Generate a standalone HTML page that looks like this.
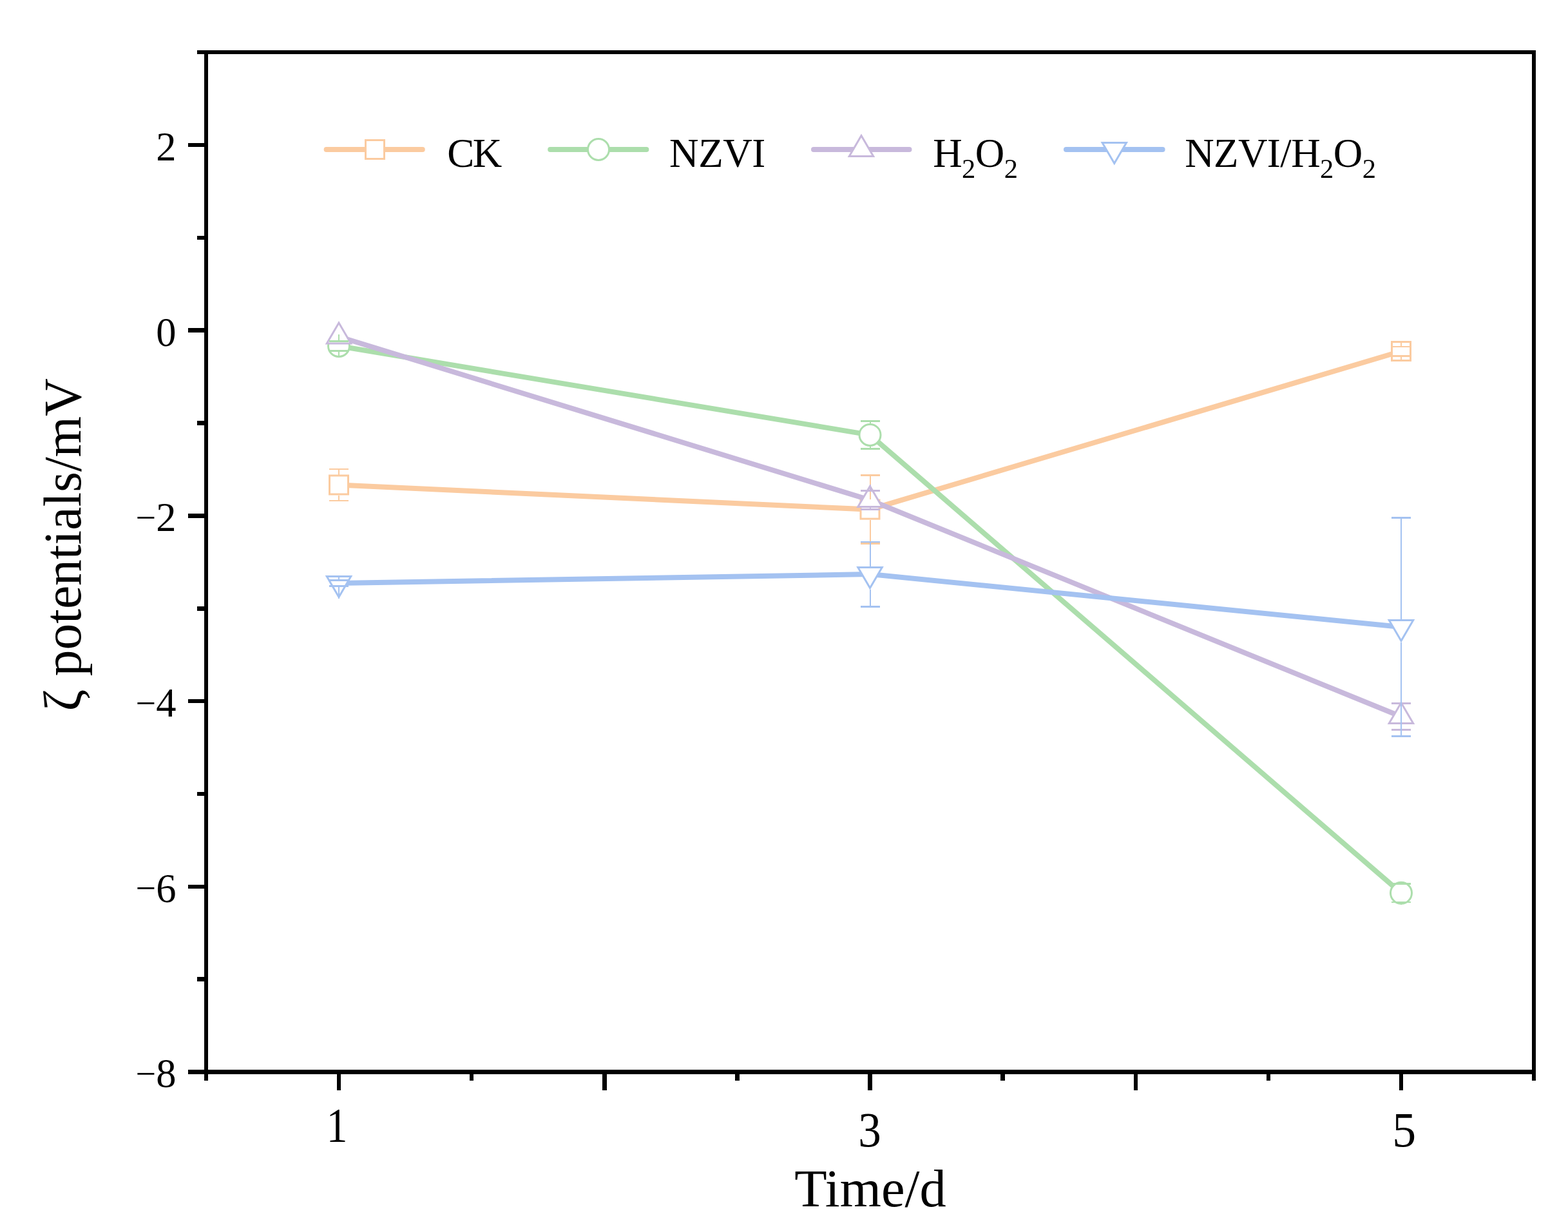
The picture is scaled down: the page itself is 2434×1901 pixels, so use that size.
<!DOCTYPE html><html><head><meta charset="utf-8"><title>zeta potentials</title><style>html,body{margin:0;padding:0;background:#fff;overflow:hidden;}svg{display:block;}text{font-family:"Liberation Serif","Times New Roman",serif;fill:#000;}</style></head><body>
<svg width="2434" height="1901" viewBox="0 0 2434 1901" shape-rendering="crispEdges">
<rect x="0" y="0" width="2434" height="1901" fill="#fff"/>
<g shape-rendering="auto">
<polyline points="526.00,752.50 1350.50,790.60 2175.00,545.00" fill="none" stroke="#FBCBA0" stroke-width="8" stroke-linejoin="miter"/>
<rect x="511.50" y="738.00" width="29.00" height="29.00" fill="#fff" stroke="#FBCBA0" stroke-width="3"/>
<rect x="1336.00" y="776.10" width="29.00" height="29.00" fill="#fff" stroke="#FBCBA0" stroke-width="3"/>
<rect x="2160.50" y="530.50" width="29.00" height="29.00" fill="#fff" stroke="#FBCBA0" stroke-width="3"/>
<polyline points="526.00,537.00 1350.50,674.90 2175.00,1385.80" fill="none" stroke="#ACDEAC" stroke-width="8" stroke-linejoin="miter"/>
<circle cx="526.00" cy="537.00" r="16.5" fill="#fff" stroke="#ACDEAC" stroke-width="3"/>
<circle cx="1350.50" cy="674.90" r="16.5" fill="#fff" stroke="#ACDEAC" stroke-width="3"/>
<circle cx="2175.00" cy="1385.80" r="16.5" fill="#fff" stroke="#ACDEAC" stroke-width="3"/>
<polyline points="526.00,522.50 1350.50,776.00 2175.00,1112.00" fill="none" stroke="#C8B9DC" stroke-width="8" stroke-linejoin="miter"/>
<path d="M526.00,501.00L544.70,533.00L507.30,533.00Z" fill="#fff" stroke="#C8B9DC" stroke-width="3" stroke-linejoin="miter"/>
<path d="M1350.50,754.50L1369.20,786.50L1331.80,786.50Z" fill="#fff" stroke="#C8B9DC" stroke-width="3" stroke-linejoin="miter"/>
<path d="M2175.00,1090.50L2193.70,1122.50L2156.30,1122.50Z" fill="#fff" stroke="#C8B9DC" stroke-width="3" stroke-linejoin="miter"/>
<polyline points="526.00,905.00 1350.50,891.10 2175.00,973.00" fill="none" stroke="#A4C2F1" stroke-width="8" stroke-linejoin="miter"/>
<path d="M507.30,894.50L544.70,894.50L526.00,926.50Z" fill="#fff" stroke="#A4C2F1" stroke-width="3" stroke-linejoin="miter"/>
<path d="M1331.80,880.60L1369.20,880.60L1350.50,912.60Z" fill="#fff" stroke="#A4C2F1" stroke-width="3" stroke-linejoin="miter"/>
<path d="M2156.30,962.50L2193.70,962.50L2175.00,994.50Z" fill="#fff" stroke="#A4C2F1" stroke-width="3" stroke-linejoin="miter"/>
</g>
<rect x="525.0" y="728.0" width="2" height="8.5" fill="#FBCBA0"/>
<rect x="525.0" y="768.5" width="2" height="8.5" fill="#FBCBA0"/>
<rect x="511.0" y="726.8" width="30" height="2.5" fill="#FBCBA0"/>
<rect x="511.0" y="775.8" width="30" height="2.5" fill="#FBCBA0"/>
<rect x="1349.5" y="737.6" width="2" height="37.0" fill="#FBCBA0"/>
<rect x="1349.5" y="806.6" width="2" height="37.0" fill="#FBCBA0"/>
<rect x="1335.5" y="736.4" width="30" height="2.5" fill="#FBCBA0"/>
<rect x="1335.5" y="842.4" width="30" height="2.5" fill="#FBCBA0"/>
<rect x="2174.0" y="529.0" width="2" height="8.7" fill="#FBCBA0"/>
<rect x="2174.0" y="552.3" width="2" height="8.7" fill="#FBCBA0"/>
<rect x="2160.0" y="536.5" width="30" height="2.5" fill="#FBCBA0"/>
<rect x="2160.0" y="551.0" width="30" height="2.5" fill="#FBCBA0"/>
<rect x="525.0" y="519.0" width="2" height="10.5" fill="#ACDEAC"/>
<rect x="525.0" y="544.5" width="2" height="10.5" fill="#ACDEAC"/>
<rect x="511.0" y="528.2" width="30" height="2.5" fill="#ACDEAC"/>
<rect x="511.0" y="543.2" width="30" height="2.5" fill="#ACDEAC"/>
<rect x="1349.5" y="653.4" width="2" height="3.5" fill="#ACDEAC"/>
<rect x="1349.5" y="692.9" width="2" height="3.5" fill="#ACDEAC"/>
<rect x="1335.5" y="652.1" width="30" height="2.5" fill="#ACDEAC"/>
<rect x="1335.5" y="695.1" width="30" height="2.5" fill="#ACDEAC"/>
<rect x="2174.0" y="1367.8" width="2" height="3.7" fill="#ACDEAC"/>
<rect x="2174.0" y="1400.1" width="2" height="3.7" fill="#ACDEAC"/>
<rect x="2160.0" y="1370.2" width="30" height="2.5" fill="#ACDEAC"/>
<rect x="2160.0" y="1398.8" width="30" height="2.5" fill="#ACDEAC"/>
<rect x="1349.5" y="752.0" width="2" height="9.5" fill="#C8B9DC"/>
<rect x="1349.5" y="788.0" width="2" height="2.5" fill="#C8B9DC"/>
<rect x="1335.5" y="760.2" width="30" height="2.5" fill="#C8B9DC"/>
<rect x="1335.5" y="789.2" width="30" height="2.5" fill="#C8B9DC"/>
<rect x="2174.0" y="1088.0" width="2" height="3.5" fill="#C8B9DC"/>
<rect x="2174.0" y="1124.0" width="2" height="8.5" fill="#C8B9DC"/>
<rect x="2160.0" y="1090.2" width="30" height="2.5" fill="#C8B9DC"/>
<rect x="2160.0" y="1131.2" width="30" height="2.5" fill="#C8B9DC"/>
<rect x="525.0" y="893.0" width="2" height="7.5" fill="#A4C2F1"/>
<rect x="525.0" y="909.5" width="2" height="19.5" fill="#A4C2F1"/>
<rect x="511.0" y="899.2" width="30" height="2.5" fill="#A4C2F1"/>
<rect x="511.0" y="908.2" width="30" height="2.5" fill="#A4C2F1"/>
<rect x="1349.5" y="840.8" width="2" height="38.3" fill="#A4C2F1"/>
<rect x="1349.5" y="915.1" width="2" height="26.3" fill="#A4C2F1"/>
<rect x="1335.5" y="839.6" width="30" height="2.5" fill="#A4C2F1"/>
<rect x="1335.5" y="940.1" width="30" height="2.5" fill="#A4C2F1"/>
<rect x="2174.0" y="803.5" width="2" height="157.5" fill="#A4C2F1"/>
<rect x="2174.0" y="997.0" width="2" height="145.5" fill="#A4C2F1"/>
<rect x="2160.0" y="802.2" width="30" height="2.5" fill="#A4C2F1"/>
<rect x="2160.0" y="1141.2" width="30" height="2.5" fill="#A4C2F1"/>
<g fill="#000">
<rect x="306" y="77.75" width="2078.25" height="6.5"/>
<rect x="292" y="1660.25" width="2092.25" height="6.5"/>
<rect x="316.75" y="77.75" width="6.5" height="1599"/>
<rect x="2377.75" y="77.75" width="6.5" height="1599"/>
<rect x="292" y="221.75" width="26" height="6.5"/>
<rect x="292" y="509.45" width="26" height="6.5"/>
<rect x="292" y="797.15" width="26" height="6.5"/>
<rect x="292" y="1084.85" width="26" height="6.5"/>
<rect x="292" y="1372.55" width="26" height="6.5"/>
<rect x="306" y="365.60" width="12" height="6.5"/>
<rect x="306" y="653.30" width="12" height="6.5"/>
<rect x="306" y="941.00" width="12" height="6.5"/>
<rect x="306" y="1228.70" width="12" height="6.5"/>
<rect x="306" y="1516.40" width="12" height="6.5"/>
<rect x="522.75" y="1666" width="6.5" height="26"/>
<rect x="935.00" y="1666" width="6.5" height="26"/>
<rect x="1347.25" y="1666" width="6.5" height="26"/>
<rect x="1759.50" y="1666" width="6.5" height="26"/>
<rect x="2171.75" y="1666" width="6.5" height="26"/>
<rect x="728.88" y="1666" width="6.5" height="11"/>
<rect x="1141.12" y="1666" width="6.5" height="11"/>
<rect x="1553.38" y="1666" width="6.5" height="11"/>
<rect x="1965.62" y="1666" width="6.5" height="11"/>
</g>
<g font-size="62.5" text-anchor="end">
<text x="273.4" y="248.8">2</text>
<text x="273.4" y="536.5">0</text>
<text x="273.4" y="824.2"><tspan font-size="56" dy="-2.2">−</tspan><tspan dy="2.2">2</tspan></text>
<text x="273.4" y="1111.9"><tspan font-size="56" dy="-2.2">−</tspan><tspan dy="2.2">4</tspan></text>
<text x="273.4" y="1399.6"><tspan font-size="56" dy="-2.2">−</tspan><tspan dy="2.2">6</tspan></text>
<text x="273.4" y="1687.3"><tspan font-size="56" dy="-2.2">−</tspan><tspan dy="2.2">8</tspan></text>
</g>
<g font-size="76" text-anchor="middle">
<text transform="translate(523.0,1772) scale(0.86,1)">1</text>
<text transform="translate(1350.1,1779.2) scale(0.935,1)">3</text>
<text transform="translate(2179.8,1779.3) scale(0.97,1)">5</text>
</g>
<text x="1351" y="1871.8" font-size="82.5" text-anchor="middle">Time/d</text>
<text transform="translate(125.2,845.3) rotate(-90)" font-size="81.6" text-anchor="middle">ζ potentials/mV</text>
<g shape-rendering="auto">
<line x1="506.6" y1="232" x2="655.8" y2="232" stroke="#FBCBA0" stroke-width="8" stroke-linecap="round"/>
<rect x="567.50" y="217.50" width="29.00" height="29.00" fill="#fff" stroke="#FBCBA0" stroke-width="3"/>
<line x1="854.2" y1="232" x2="1003.4" y2="232" stroke="#ACDEAC" stroke-width="8" stroke-linecap="round"/>
<circle cx="929.00" cy="232.00" r="16.5" fill="#fff" stroke="#ACDEAC" stroke-width="3"/>
<line x1="1263.0" y1="232" x2="1411.5" y2="232" stroke="#C8B9DC" stroke-width="8" stroke-linecap="round"/>
<path d="M1337.00,210.50L1355.70,242.50L1318.30,242.50Z" fill="#fff" stroke="#C8B9DC" stroke-width="3" stroke-linejoin="miter"/>
<line x1="1655.0" y1="232" x2="1804.6" y2="232" stroke="#A4C2F1" stroke-width="8" stroke-linecap="round"/>
<path d="M1711.10,221.50L1748.50,221.50L1729.80,253.50Z" fill="#fff" stroke="#A4C2F1" stroke-width="3" stroke-linejoin="miter"/>
</g>
<g font-size="63">
<text x="694.2" y="259" letter-spacing="-2.5">CK</text>
<text x="1039.1" y="259" letter-spacing="-0.4">NZVI</text>
<text x="1448.2" y="259" letter-spacing="-0.6">H<tspan font-size="42.6" dy="17">2</tspan><tspan dy="-17">O</tspan><tspan font-size="42.6" dy="17">2</tspan></text>
<text x="1839.2" y="259" letter-spacing="-0.6">NZVI/H<tspan font-size="42.6" dy="17">2</tspan><tspan dy="-17">O</tspan><tspan font-size="42.6" dy="17">2</tspan></text>
</g>
</svg></body></html>
